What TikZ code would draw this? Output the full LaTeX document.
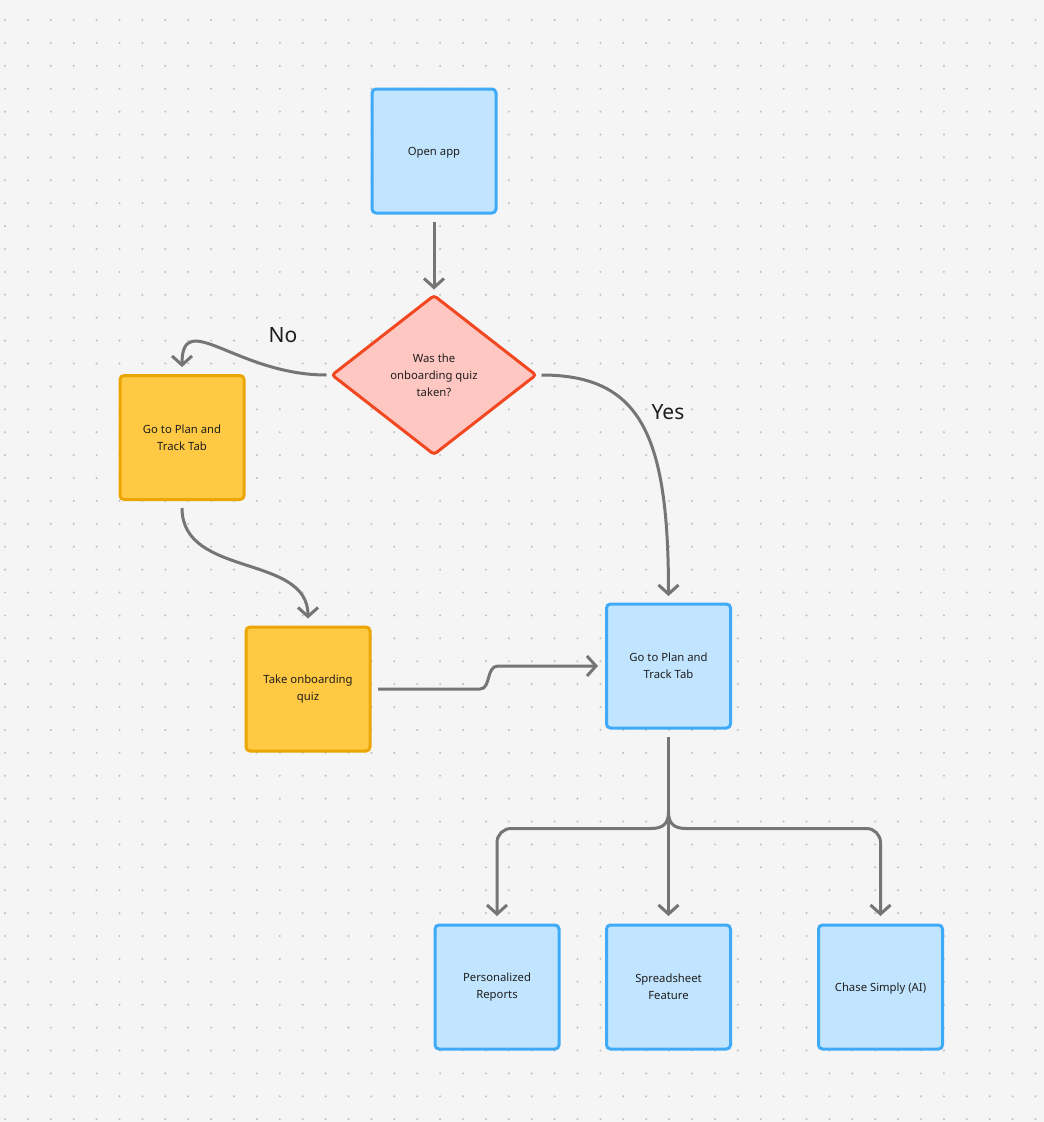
\documentclass[tikz,border=0pt]{standalone}
\usepackage{fontspec}
\setmainfont{Noto Sans}
\usetikzlibrary{shapes.geometric,arrows.meta,calc}
\definecolor{bgc}{HTML}{F5F5F5}
\definecolor{dotc}{HTML}{C2C2C2}
\definecolor{bluefill}{HTML}{C2E5FF}
\definecolor{blueline}{HTML}{3FAAF7}
\definecolor{yelfill}{HTML}{FFC943}
\definecolor{yelline}{HTML}{EBA603}
\definecolor{redfill}{HTML}{FFC7C2}
\definecolor{redline}{HTML}{F24822}
\definecolor{conc}{HTML}{757575}
\definecolor{txt}{HTML}{1E1E1E}
\tikzset{
  box/.style={rectangle, rounded corners=4pt, line width=3pt, minimum width=124pt, minimum height=124pt,
    inner sep=0pt, align=center, font=\fontsize{11.3pt}{17pt}\selectfont, text=txt,
    execute at begin node={\rule{0pt}{12pt}}},
  bluebox/.style={box, draw=blueline, fill=bluefill},
  yelbox/.style={box, draw=yelline, fill=yelfill},
  decision/.style={diamond, line width=3pt, draw=redline, fill=redfill, rounded corners=3pt,
    minimum width=205pt, minimum height=160pt, inner sep=0pt, align=center,
    font=\fontsize{11.3pt}{17pt}\selectfont, text=txt,
    execute at begin node={\rule{0pt}{11pt}}},
  conn/.style={draw=conc, line width=3pt, -{Straight Barb[length=9pt,width=20pt,line width=3pt]}},
  lbl/.style={font=\fontsize{21pt}{24pt}\selectfont, text=txt, inner sep=0pt}
}
\begin{document}
\begin{tikzpicture}[x=1pt,y=-1pt]
\useasboundingbox (0,0) rectangle (1044,1122);
\fill[bgc] (0,0) rectangle (1044,1122);
\foreach \i in {0,...,45}{
  \foreach \j in {0,...,48}{
    \fill[dotc] ({5+22.9*\i},{20+22.9*\j}) circle (1.15pt);
  }
}
% nodes
\node[bluebox] (open) at (434,151) {Open app};
\node[decision] (q) at (434,375) {Was the\\onboarding quiz\\taken?};
\node[yelbox] (y1) at (182,437.5) {Go to Plan and\\Track Tab};
\node[yelbox] (y2) at (308,689) {Take onboarding\\quiz};
\node[bluebox] (b2) at (668.5,666) {Go to Plan and\\Track Tab};
\node[bluebox] (r1) at (497,987) {Personalized\\Reports};
\node[bluebox] (r2) at (668.5,987) {Spreadsheet\\Feature};
\node[bluebox] (r3) at (880.5,987) {Chase Simply (AI)};
\node[lbl] (no) at (283,335) {No};
\node[lbl] (yes) at (668,412) {Yes};
% connectors
\draw[conn] ($(open.south)+(0,7)$) -- ($(q.north)+(0,-4)$);
% No
\coordinate (nos) at ($(q.west)+(-3.5,0)$);
\coordinate (noe) at ($(y1.north)+(0,-7)$);
\draw[conn] (nos) .. controls ($(nos)+(-90,0)$) and ($(noe)+(0,-60)$) .. (noe);
% Yes
\coordinate (yss) at ($(q.east)+(3.5,0)$);
\coordinate (yse) at ($(b2.north)+(0,-6.5)$);
\draw[conn] (yss) .. controls ($(yss)+(100,0)$) and ($(yse)+(0,-160)$) .. (yse);
% y1 -> y2
\coordinate (ys1) at ($(y1.south)+(0,7)$);
\coordinate (ye1) at ($(y2.north)+(0,-7)$);
\draw[conn] (ys1) .. controls ($(ys1)+(0,70)$) and ($(ye1)+(0,-65)$) .. (ye1);
% y2 -> b2
\coordinate (js) at ($(y2.east)+(6.5,0)$);
\coordinate (je) at ($(b2.west)+(-7,0)$);
\draw[conn] (js) -- ($(js)+(102,0)$) .. controls ($(js)+(113,0)$) and ($(js)+(108,-23)$) .. ($(js)+(120,-23)$) -- (je);
% tree
\coordinate (ts) at ($(b2.south)+(0,7.5)$);
\coordinate (te) at ($(r2.north)+(0,-7.5)$);
\draw[conn] (ts) -- (te);
\coordinate (split) at ($(b2.south)+(0,82)$);
\coordinate (l1) at ($(r1.north)+(0,-7.5)$);
\coordinate (l3) at ($(r3.north)+(0,-7.5)$);
\draw[conn] (split) .. controls ($(split)+(0,12)$) and ($(split)+(-5,17)$) .. ($(split)+(-18,17)$)
  [rounded corners=14pt] -- (l1 |- {$(split)+(0,17)$}) -- (l1);
\draw[conn] (split) .. controls ($(split)+(0,12)$) and ($(split)+(5,17)$) .. ($(split)+(18,17)$)
  [rounded corners=14pt] -- (l3 |- {$(split)+(0,17)$}) -- (l3);
\end{tikzpicture}
\end{document}
